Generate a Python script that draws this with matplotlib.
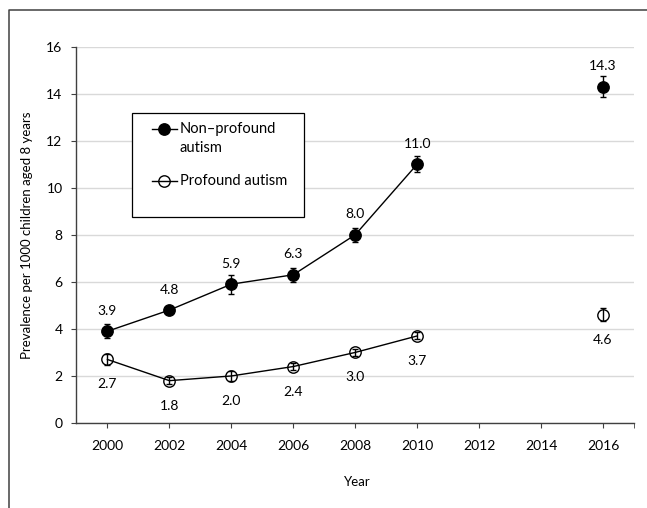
import matplotlib.pyplot as plt
import numpy as np
from matplotlib.lines import Line2D
from matplotlib.patches import Rectangle

plt.rcParams['font.family'] = ['Lato', 'DejaVu Sans']

years = [2000, 2002, 2004, 2006, 2008, 2010, 2012, 2014, 2016]
non_profound = [3.9, 4.8, 5.9, 6.3, 8.0, 11.0, np.nan, np.nan, 14.3]
non_profound_err = [0.3, 0.15, 0.4, 0.3, 0.3, 0.35, np.nan, np.nan, 0.45]
profound = [2.7, 1.8, 2.0, 2.4, 3.0, 3.7, np.nan, np.nan, 4.6]
profound_err = [0.25, 0.15, 0.2, 0.15, 0.15, 0.15, np.nan, np.nan, 0.28]
labels = ['Non–profound\nautism', 'Profound autism']

W, H = 647, 508
fig = plt.figure(figsize=(W / 100, H / 100), dpi=100)
ax = fig.add_axes([0.1182, 0.1673, 0.8617, 0.7411])

# pixel -> axes fraction helpers (for the legend box)
def ax_x(px):
    return (px - 76.5) / 557.5

def ax_y(py):
    return (423 - py) / 376.5

ax.errorbar(years, non_profound, yerr=non_profound_err, fmt='-o', color='black',
            lw=1, ms=8.2, mfc='black', mec='black', capsize=2, elinewidth=1, capthick=1,
            zorder=3)
ax.errorbar(years, profound, yerr=profound_err, fmt='-o', color='black',
            lw=1, ms=8.2, mfc='none', mec='black', mew=1, capsize=2, elinewidth=1,
            capthick=1, zorder=3)

for x, y in zip(years, non_profound):
    if not np.isnan(y):
        ax.annotate(f'{y:.1f}', (x, y), xytext=(0, 14.8), textcoords='offset points',
                    ha='center', va='center', fontsize=10)
for x, y in zip(years, profound):
    if not np.isnan(y):
        ax.annotate(f'{y:.1f}', (x, y), xytext=(0, -18), textcoords='offset points',
                    ha='center', va='center', fontsize=10)

ax.set_xlim(1999, 2017)
ax.set_ylim(0, 16)
ax.set_xticks(years)
ax.set_xticks([2017], minor=True)
ax.set_yticks(np.arange(0, 17, 2))
ax.tick_params(axis='both', which='both', labelsize=10, direction='out', color='#404040')
ax.tick_params(axis='x', which='both', length=3.5, pad=8.5)
ax.tick_params(axis='y', length=3.5, pad=6.5)

ax.grid(axis='y', color='#d9d9d9', lw=1)
ax.set_axisbelow(True)
for s in ['top', 'right']:
    ax.spines[s].set_visible(False)
for s in ['left', 'bottom']:
    ax.spines[s].set_color('#404040')
    ax.spines[s].set_linewidth(1)

ax.set_xlabel('Year', fontsize=9.5)
ax.xaxis.set_label_coords(0.503, -0.141)
ax.set_ylabel('Prevalence per 1000 children aged 8 years', fontsize=9.5)
ax.yaxis.set_label_coords(-0.078, 0.5)

# legend, drawn by hand so the marker sits on the first label line
ax.add_patch(Rectangle((ax_x(131.7), ax_y(216.7)), ax_x(304) - ax_x(131.7),
                       ax_y(112.7) - ax_y(216.7), transform=ax.transAxes,
                       fc='white', ec='black', lw=0.9, zorder=4))
entry_y = [129, 181]
fills = ['black', 'none']
for lab, py, fc in zip(labels, entry_y, fills):
    ax.add_line(Line2D([ax_x(151.7), ax_x(177)], [ax_y(py), ax_y(py)], transform=ax.transAxes,
                       color='black', lw=1, zorder=5))
    ax.add_line(Line2D([ax_x(164.3)], [ax_y(py)], transform=ax.transAxes, marker='o',
                       ms=8.2, mfc=fc, mec='black', zorder=6))
    for i, line in enumerate(lab.split('\n')):
        ax.text(ax_x(180), ax_y(py + 19 * i), line, transform=ax.transAxes,
                ha='left', va='center', fontsize=10.5, zorder=6)

# outer frame
fig.add_artist(Line2D([9 / W, 9 / W, 1.0], [0.0, 1 - 10 / H, 1 - 10 / H],
                      transform=fig.transFigure, color='#404040', lw=1.1))

fig.savefig('out.png', dpi=100)
